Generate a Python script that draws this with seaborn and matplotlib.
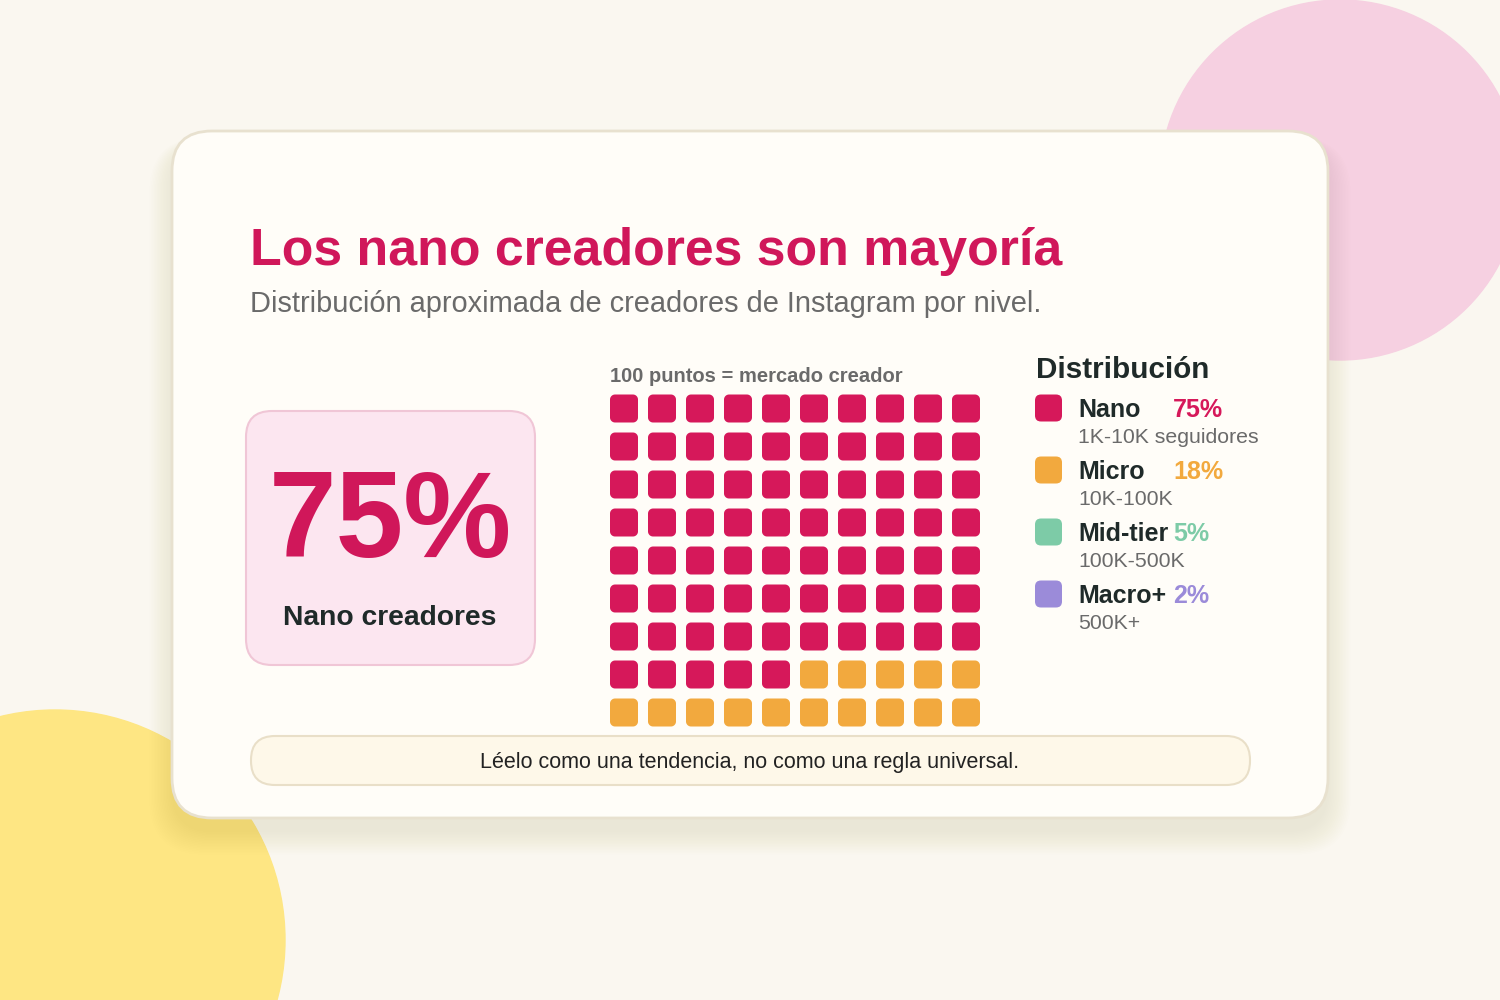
import numpy as np
import pandas as pd
import matplotlib
matplotlib.use("Agg")
import matplotlib.pyplot as plt
from matplotlib.patches import FancyBboxPatch, Circle
from matplotlib.path import Path
import seaborn as sns

# ---------------- data ----------------
tiers = ["Nano", "Micro", "Mid-tier", "Macro+"]
shares = [75, 18, 5, 2]
ranges = ["1K-10K seguidores", "10K-100K", "100K-500K", "500K+"]
colors = ["#D6185A", "#F2A93E", "#7DCBA7", "#9B8BD9"]
title = "Los nano creadores son mayoría"
subtitle = "Distribución aproximada de creadores de Instagram por nivel."
grid_label = "100 puntos = mercado creador"
stat_value = "75%"
stat_label = "Nano creadores"
legend_title = "Distribución"
footer = "Léelo como una tendencia, no como una regla universal."
n_cols = 10

sns.set_theme(style="white")
plt.rcParams["font.family"] = ["Liberation Sans", "DejaVu Sans"]

BG = "#FAF7F0"
fig = plt.figure(figsize=(15, 10), dpi=100, facecolor=BG)

# background / decoration axes in pixel coordinates
bg = fig.add_axes([0, 0, 1, 1], zorder=0)
bg.set_xlim(0, 1500)
bg.set_ylim(1000, 0)
bg.axis("off")
bg.set_facecolor(BG)

bg.add_patch(Circle((1340, 180), 180, color="#F6D0E1", zorder=1))
bg.add_patch(Circle((55, 940), 230, color="#FEE683", zorder=1))

# card shadow
for k in range(16):
    bg.add_patch(FancyBboxPatch((172 - k * 1.5, 131 + 14 - k * 0.5), 1156 + k * 3, 687 + k * 2,
                                boxstyle="round,pad=0,rounding_size=%d" % (40 + k),
                                facecolor="#8a7a60", edgecolor="none", alpha=0.009, zorder=2))
# card
bg.add_patch(FancyBboxPatch((172, 131), 1156, 687, boxstyle="round,pad=0,rounding_size=40",
                            facecolor="#FFFDF8", edgecolor="#E8E1CF", linewidth=2, zorder=3))

# title and subtitle
bg.text(250, 265, title, color="#D0175A", fontsize=37.4, fontweight="bold", va="baseline", zorder=5)
bg.text(250, 312, subtitle, color="#6A6A6A", fontsize=20.85, va="baseline", zorder=5)

# big stat box
bg.add_patch(FancyBboxPatch((246, 411), 289, 254, boxstyle="round,pad=0,rounding_size=26",
                            facecolor="#FCE6F0", edgecolor="#F0C6D6", linewidth=1.5, zorder=4))
bg.text(390, 557, stat_value, color="#D0175A", fontsize=87.5, fontweight="bold",
        ha="center", va="baseline", zorder=5)
bg.text(390, 625, stat_label, color="#1F2A29", fontsize=20.3, fontweight="bold",
        ha="center", va="baseline", zorder=5)

# grid label
bg.text(610, 382, grid_label, color="#6A6A6A", fontsize=14.5, fontweight="bold",
        va="baseline", zorder=5)

# legend
bg.text(1036, 378, legend_title, color="#1F2A29", fontsize=21.3, fontweight="bold",
        va="baseline", zorder=5)
for i, (t, s, r, c) in enumerate(zip(tiers, shares, ranges, colors)):
    yc = 408 + 62 * i
    bg.add_patch(FancyBboxPatch((1035, yc - 13.5), 27, 27, boxstyle="round,pad=0,rounding_size=6",
                                facecolor=c, edgecolor="none", zorder=5))
    bg.text(1078, yc + 9, t, color="#1F2A29", fontsize=18, fontweight="bold",
            va="baseline", zorder=5)
    bg.text(1173, yc + 9, f"{s}%", color=c, fontsize=18, fontweight="bold",
            va="baseline", zorder=5)
    bg.text(1078, yc + 35, r, color="#6A6A6A", fontsize=15.3, va="baseline", zorder=5)

# ---------------- waffle ----------------
cats = np.repeat(tiers, shares)
idx = np.arange(len(cats))
df = pd.DataFrame({"col": idx % n_cols, "row": idx // n_cols, "tier": cats})

# rounded-square marker
def rounded_square(rad=0.36, n=12):
    pts = []
    corners = [(1 - rad, 1 - rad, 0), (-1 + rad, 1 - rad, 90),
               (-1 + rad, -1 + rad, 180), (1 - rad, -1 + rad, 270)]
    for cx, cy, a0 in corners:
        for a in np.linspace(np.radians(a0), np.radians(a0 + 90), n):
            pts.append((cx + rad * np.cos(a), cy + rad * np.sin(a)))
    pts.append(pts[0])
    codes = [Path.MOVETO] + [Path.LINETO] * (len(pts) - 2) + [Path.CLOSEPOLY]
    return Path(pts, codes)

pitch = 38
left_px, top_px = 605, 389.5
W = H = pitch * n_cols
wax = fig.add_axes([left_px / 1500, 1 - (top_px + H) / 1000, W / 1500, H / 1000], zorder=1)
wax.patch.set_alpha(0)
sns.scatterplot(data=df, x="col", y="row", hue="tier", hue_order=tiers,
                palette=dict(zip(tiers, colors)), marker=rounded_square(),
                s=(28 * 0.72) ** 2, linewidth=0, legend=False, ax=wax)
wax.set_xlim(-0.5, n_cols - 0.5)
wax.set_ylim(n_cols - 0.5, -0.5)
wax.axis("off")

# ---------------- footer overlay ----------------
ov = fig.add_axes([0, 0, 1, 1], zorder=2)
ov.set_xlim(0, 1500)
ov.set_ylim(1000, 0)
ov.axis("off")
ov.patch.set_alpha(0)
ov.add_patch(FancyBboxPatch((251, 736), 999, 49, boxstyle="round,pad=0,rounding_size=24",
                            facecolor="#FEF8E9", edgecolor="#E9DFC8", linewidth=1.5, zorder=3))
ov.text(750, 768, footer, color="#222222", fontsize=15.5, ha="center", va="baseline", zorder=4)

fig.savefig("out.png", dpi=100, facecolor=BG)
